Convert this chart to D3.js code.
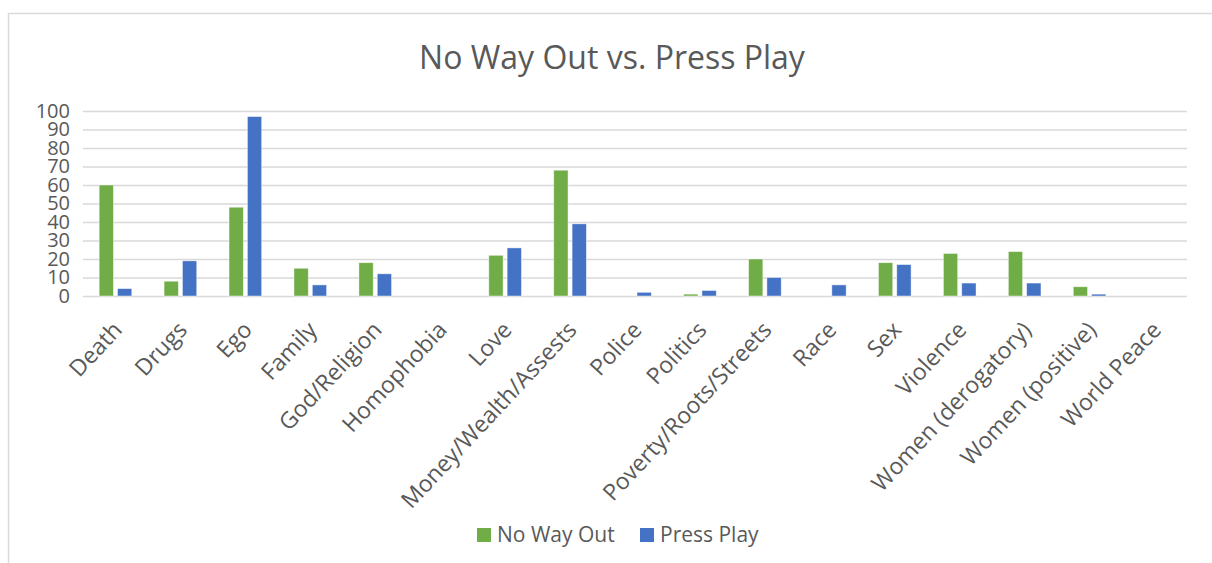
<!DOCTYPE html>
<html>
<head>
<meta charset="utf-8">
<script src="https://cdn.jsdelivr.net/npm/d3@7"></script>
<style>
  body { margin: 0; background: #fff; }
  text { font-family: "Open Sans", "Noto Sans", sans-serif; fill: #595959; }
</style>
</head>
<body>
<script>
const categories = ['Death', 'Drugs', 'Ego', 'Family', 'God/Religion', 'Homophobia', 'Love',
  'Money/Wealth/Assests', 'Police', 'Politics', 'Poverty/Roots/Streets', 'Race', 'Sex',
  'Violence', 'Women (derogatory)', 'Women (positive)', 'World Peace'];
const noWayOut = [60, 8, 48, 15, 18, 0, 22, 68, 0, 1, 20, 0, 18, 23, 24, 5, 0];
const pressPlay = [4, 19, 97, 6, 12, 0, 26, 39, 2, 3, 10, 6, 17, 7, 7, 1, 0];
const seriesNames = ['No Way Out', 'Press Play'];
const seriesColors = ['#70ad47', '#4472c4'];
const yTicks = [0, 10, 20, 30, 40, 50, 60, 70, 80, 90, 100];

const width = 1212;
const height = 563;
const plot = { left: 83, right: 1187, top: 111, bottom: 296 };

const svg = d3.select('body')
  .append('svg')
  .attr('width', width)
  .attr('height', height);

// chart frame (cropped at right and bottom)
svg.append('path')
  .attr('d', `M8.5,${height} V13.5 H${width}`)
  .attr('fill', 'none')
  .attr('stroke', '#d9d9d9')
  .attr('stroke-width', 1.5);

svg.append('text')
  .attr('x', 612)
  .attr('y', 69)
  .attr('text-anchor', 'middle')
  .attr('font-size', 32)
  .text('No Way Out vs. Press Play');

const rows = categories.map((c, i) => ({ cat: c, values: [noWayOut[i], pressPlay[i]] }));

const x0 = d3.scaleBand()
  .domain(categories)
  .range([plot.left, plot.right]);

const x1 = d3.scaleBand()
  .domain(seriesNames)
  .range([0, x0.bandwidth()])
  .paddingInner(0.22)
  .paddingOuter(0.88);

const y = d3.scaleLinear()
  .domain([0, 100])
  .range([plot.bottom, plot.top]);

// gridlines
const grid = svg.append('g')
  .attr('transform', `translate(${plot.left}, 0)`)
  .call(d3.axisLeft(y).tickValues(yTicks).tickSize(-(plot.right - plot.left)).tickFormat(''));

grid.select('.domain').remove();
grid.selectAll('line')
  .attr('stroke', '#d9d9d9')
  .attr('stroke-width', 1.5);

// y labels
const yAxis = svg.append('g')
  .attr('transform', `translate(70, 0)`)
  .call(d3.axisLeft(y).tickValues(yTicks).tickSize(0).tickPadding(0));

yAxis.select('.domain').remove();
yAxis.selectAll('text')
  .attr('font-size', 20)
  .attr('font-family', '"Open Sans", sans-serif')
  .attr('fill', '#595959');

// bars
const groups = svg.append('g')
  .selectAll('g')
  .data(rows)
  .join('g')
  .attr('transform', (d) => `translate(${x0(d.cat)}, 0)`);

groups.selectAll('rect')
  .data((d) => d.values.map((v, j) => ({ key: seriesNames[j], value: v, color: seriesColors[j] })))
  .join('rect')
  .attr('x', (d) => x1(d.key))
  .attr('width', x1.bandwidth())
  .attr('y', (d) => y(d.value))
  .attr('height', (d) => y(0) - y(d.value))
  .attr('fill', (d) => d.color)
  .attr('stroke', '#fff')
  .attr('stroke-width', 0.75)
  .attr('stroke-opacity', 0.6);

// category labels
svg.append('g')
  .selectAll('text')
  .data(categories)
  .join('text')
  .attr('transform', (d) => `translate(${x0(d) + x0.bandwidth() / 2 + 8}, 331) rotate(-47)`)
  .attr('text-anchor', 'end')
  .attr('font-size', 23)
  .text((d) => d);

// legend
const legend = svg.append('g')
  .selectAll('g')
  .data(seriesNames)
  .join('g')
  .attr('transform', (d, i) => `translate(${[477, 640][i]}, 528)`);

legend.append('rect')
  .attr('width', 14)
  .attr('height', 14)
  .attr('fill', (d, i) => seriesColors[i]);

legend.append('text')
  .attr('x', 20)
  .attr('y', 14)
  .attr('font-size', 21)
  .text((d) => d);
</script>
</body>
</html>
